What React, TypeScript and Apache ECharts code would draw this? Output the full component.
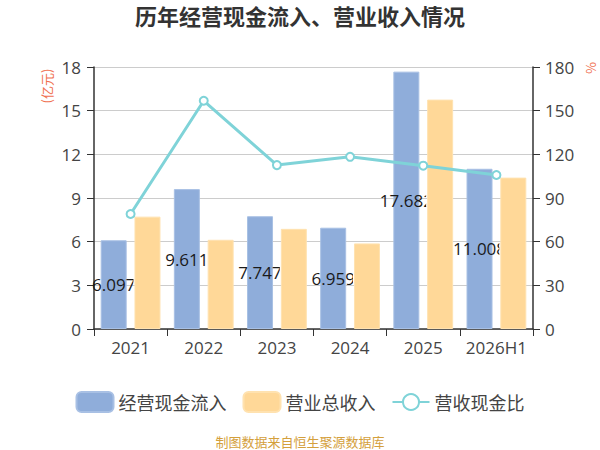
import React, { useEffect, useRef } from "react";
import * as echarts from "echarts";

const categories = ["2021", "2022", "2023", "2024", "2025", "2026H1"];
const cashInflow = [6.097, 9.611, 7.747, 6.959, 17.682, 11.008];
const revenue = [7.72, 6.13, 6.88, 5.88, 15.76, 10.4];
const ratio = [79.0, 156.8, 112.6, 118.3, 112.2, 105.8];
const seriesNames = ["经营现金流入", "营业总收入", "营收现金比"];

const FONT = "'Open Sans', 'Noto Sans CJK SC', sans-serif";
const CJK = "'Noto Sans CJK SC', sans-serif";
const BAR_W = 26;
const BAR_GAP = 0.3;

export default function App() {
  const ref = useRef<HTMLDivElement>(null);
  useEffect(() => {
    const chart = echarts.init(ref.current!, undefined, { renderer: "svg" });
    const halfGap = (BAR_W * BAR_GAP) / 2;
    const blueOffset = -halfGap - BAR_W / 2;
    chart.setOption({
      animation: false,
      backgroundColor: "#ffffff",
      textStyle: { fontFamily: FONT },
      title: {
        text: "历年经营现金流入、营业收入情况",
        left: "center",
        top: -1,
        textStyle: { fontSize: 22, fontWeight: "bold", color: "#333", fontFamily: CJK },
      },
      grid: { left: 94, right: 67, top: 67, bottom: 121 },
      legend: {
        top: 386,
        left: "center",
        itemWidth: 37,
        itemHeight: 20,
        itemGap: 16,
        textStyle: { fontSize: 18, color: "#444", fontFamily: CJK },
        data: [
          { name: seriesNames[0], icon: "roundRect" },
          { name: seriesNames[1], icon: "roundRect" },
          { name: seriesNames[2] },
        ],
      },
      graphic: [
        {
          type: "text",
          x: 46,
          y: 86,
          rotation: Math.PI / 2,
          style: {
            text: "(亿元)",
            fill: "#f07050",
            fontSize: 13,
            fontFamily: CJK,
            align: "center",
            verticalAlign: "middle",
            textAlign: "center",
            textVerticalAlign: "middle",
          },
        },
        {
          type: "text",
          x: 590,
          y: 68,
          rotation: Math.PI / 2,
          style: {
            text: "%",
            fill: "#f07050",
            fontSize: 13,
            fontFamily: CJK,
            align: "center",
            verticalAlign: "middle",
            textAlign: "center",
            textVerticalAlign: "middle",
          },
        },
        {
          type: "text",
          x: 300,
          y: 441,
          style: {
            text: "制图数据来自恒生聚源数据库",
            fill: "#d4a03c",
            fontSize: 13,
            fontFamily: CJK,
            align: "center",
            verticalAlign: "middle",
            textAlign: "center",
            textVerticalAlign: "middle",
          },
        },
      ],
      xAxis: {
        type: "category",
        data: categories,
        axisLine: { lineStyle: { color: "#333", width: 1.5 } },
        axisTick: { show: true, interval: 0, length: 7, lineStyle: { color: "#333" } },
        axisLabel: { interval: 0, fontSize: 17, color: "#444", margin: 10 },
      },
      yAxis: [
        {
          type: "value",
          min: 0,
          max: 18,
          interval: 3,
          axisLine: { show: true, lineStyle: { color: "#333", width: 1.5 } },
          axisTick: { show: true, length: 7, lineStyle: { color: "#333" } },
          axisLabel: { fontSize: 17, color: "#444", margin: 13 },
          splitLine: { lineStyle: { color: "#cccccc", width: 1 } },
        },
        {
          type: "value",
          min: 0,
          max: 180,
          interval: 30,
          axisLine: { show: true, lineStyle: { color: "#333", width: 1.5 } },
          axisTick: { show: true, length: 7, lineStyle: { color: "#333" } },
          axisLabel: { fontSize: 17, color: "#444", margin: 12 },
          splitLine: { show: false },
        },
      ],
      series: [
        {
          name: seriesNames[0],
          type: "bar",
          data: cashInflow,
          barWidth: BAR_W,
          barGap: BAR_GAP * 100 + "%",
          z: 2,
          itemStyle: { color: "#8fadda", borderColor: "#a8c0e4", borderWidth: 1 },
        },
        {
          name: "label",
          type: "custom",
          z: 3,
          silent: true,
          data: cashInflow.map((v, i) => [i, v]),
          renderItem: (params: any, api: any) => {
            const i = api.value(0);
            const v = api.value(1);
            const top = api.coord([i, v]);
            const bottom = api.coord([i, 0]);
            const clipRight = top[0] + halfGap - 1;
            return {
              type: "group",
              clipPath: {
                type: "rect",
                shape: { x: 0, y: 0, width: clipRight, height: 450 },
              },
              children: [
                {
                  type: "text",
                  x: top[0] + blueOffset,
                  y: (top[1] + bottom[1]) / 2,
                  style: {
                    text: String(v),
                    fill: "#1a1a1a",
                    fontSize: 17,
                    fontFamily: FONT,
                    align: "center",
                    verticalAlign: "middle",
                    textAlign: "center",
                    textVerticalAlign: "middle",
                  },
                },
              ],
            };
          },
        },
        {
          name: seriesNames[1],
          type: "bar",
          data: revenue,
          barWidth: BAR_W,
          barGap: BAR_GAP * 100 + "%",
          z: 4,
          itemStyle: { color: "#ffd898", borderColor: "#ffe2b0", borderWidth: 1 },
        },
        {
          name: seriesNames[2],
          type: "line",
          yAxisIndex: 1,
          data: ratio,
          z: 5,
          symbol: "emptyCircle",
          symbolSize: 8,
          lineStyle: { color: "#7fd3d8", width: 3 },
          itemStyle: { color: "#7fd3d8", borderWidth: 2 },
        },
      ],
    });
    return () => chart.dispose();
  }, []);
  return (
    <div
      ref={ref}
      style={{ position: "absolute", left: 0, top: 0, width: 600, height: 450 }}
    />
  );
}
